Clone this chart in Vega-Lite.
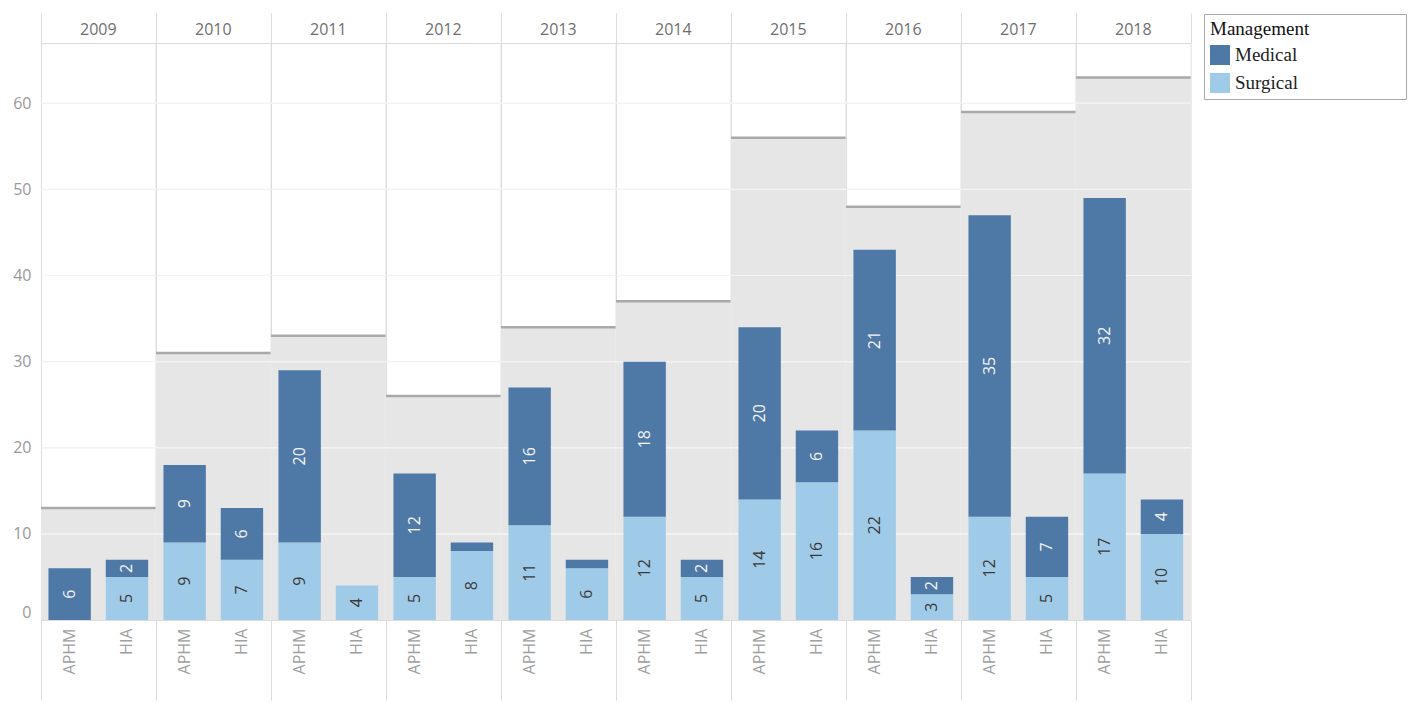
{
  "$schema": "https://vega.github.io/schema/vega-lite/v6.json",
  "padding": {"left": 12, "top": 12, "right": 5, "bottom": 0},
  "background": "white",
  "data": {"values": [
    {"year": "2009", "hospital": "APHM", "management": "Medical", "count": 6},
    {"year": "2009", "hospital": "HIA", "management": "Surgical", "count": 5},
    {"year": "2009", "hospital": "HIA", "management": "Medical", "count": 2},
    {"year": "2010", "hospital": "APHM", "management": "Surgical", "count": 9},
    {"year": "2010", "hospital": "APHM", "management": "Medical", "count": 9},
    {"year": "2010", "hospital": "HIA", "management": "Surgical", "count": 7},
    {"year": "2010", "hospital": "HIA", "management": "Medical", "count": 6},
    {"year": "2011", "hospital": "APHM", "management": "Surgical", "count": 9},
    {"year": "2011", "hospital": "APHM", "management": "Medical", "count": 20},
    {"year": "2011", "hospital": "HIA", "management": "Surgical", "count": 4},
    {"year": "2012", "hospital": "APHM", "management": "Surgical", "count": 5},
    {"year": "2012", "hospital": "APHM", "management": "Medical", "count": 12},
    {"year": "2012", "hospital": "HIA", "management": "Surgical", "count": 8},
    {"year": "2012", "hospital": "HIA", "management": "Medical", "count": 1},
    {"year": "2013", "hospital": "APHM", "management": "Surgical", "count": 11},
    {"year": "2013", "hospital": "APHM", "management": "Medical", "count": 16},
    {"year": "2013", "hospital": "HIA", "management": "Surgical", "count": 6},
    {"year": "2013", "hospital": "HIA", "management": "Medical", "count": 1},
    {"year": "2014", "hospital": "APHM", "management": "Surgical", "count": 12},
    {"year": "2014", "hospital": "APHM", "management": "Medical", "count": 18},
    {"year": "2014", "hospital": "HIA", "management": "Surgical", "count": 5},
    {"year": "2014", "hospital": "HIA", "management": "Medical", "count": 2},
    {"year": "2015", "hospital": "APHM", "management": "Surgical", "count": 14},
    {"year": "2015", "hospital": "APHM", "management": "Medical", "count": 20},
    {"year": "2015", "hospital": "HIA", "management": "Surgical", "count": 16},
    {"year": "2015", "hospital": "HIA", "management": "Medical", "count": 6},
    {"year": "2016", "hospital": "APHM", "management": "Surgical", "count": 22},
    {"year": "2016", "hospital": "APHM", "management": "Medical", "count": 21},
    {"year": "2016", "hospital": "HIA", "management": "Surgical", "count": 3},
    {"year": "2016", "hospital": "HIA", "management": "Medical", "count": 2},
    {"year": "2017", "hospital": "APHM", "management": "Surgical", "count": 12},
    {"year": "2017", "hospital": "APHM", "management": "Medical", "count": 35},
    {"year": "2017", "hospital": "HIA", "management": "Surgical", "count": 5},
    {"year": "2017", "hospital": "HIA", "management": "Medical", "count": 7},
    {"year": "2018", "hospital": "APHM", "management": "Surgical", "count": 17},
    {"year": "2018", "hospital": "APHM", "management": "Medical", "count": 32},
    {"year": "2018", "hospital": "HIA", "management": "Surgical", "count": 10},
    {"year": "2018", "hospital": "HIA", "management": "Medical", "count": 4}
  ]},
  "spacing": 0,
  "bounds": "flush",
  "facet": {"column": {"field": "year", "type": "ordinal", "title": null,
    "header": {"labelFont": "Open Sans", "labelFontSize": 16, "labelColor": "#6f6f6f", "labelPadding": -25}}},
  "spec": {
    "width": 114.6,
    "height": 577,
    "resolve": {"axis": {"x": "independent"}},
    "layer": [
      {
        "transform": [{"aggregate": [{"op": "sum", "field": "count", "as": "total"}], "groupby": ["year"]}],
        "mark": {"type": "rect", "color": "#e6e6e6"},
        "encoding": {
          "y": {"field": "total", "type": "quantitative", "title": null, "scale": {"domain": [0, 67], "nice": false}},
          "y2": {"datum": 0}
        }
      },
      {"mark": {"type": "rule", "color": "#f3f3f3", "strokeWidth": 1}, "encoding": {"y": {"datum": 10, "type": "quantitative", "title": null}}},
      {"mark": {"type": "rule", "color": "#f3f3f3", "strokeWidth": 1}, "encoding": {"y": {"datum": 20, "type": "quantitative", "title": null}}},
      {"mark": {"type": "rule", "color": "#f3f3f3", "strokeWidth": 1}, "encoding": {"y": {"datum": 30, "type": "quantitative", "title": null}}},
      {"mark": {"type": "rule", "color": "#f3f3f3", "strokeWidth": 1}, "encoding": {"y": {"datum": 40, "type": "quantitative", "title": null}}},
      {"mark": {"type": "rule", "color": "#f3f3f3", "strokeWidth": 1}, "encoding": {"y": {"datum": 50, "type": "quantitative", "title": null}}},
      {"mark": {"type": "rule", "color": "#f3f3f3", "strokeWidth": 1}, "encoding": {"y": {"datum": 60, "type": "quantitative", "title": null}}},
      {
        "transform": [{"aggregate": [{"op": "sum", "field": "count", "as": "total"}], "groupby": ["year"]}],
        "mark": {"type": "rule", "color": "#a9a9a9", "strokeWidth": 2.5},
        "encoding": {"y": {"field": "total", "type": "quantitative", "title": null}}
      },
      {
        "mark": {"type": "bar", "width": {"band": 0.74}},
        "encoding": {
          "x": {"field": "hospital", "type": "nominal", "title": null,
            "scale": {"paddingInner": 0, "paddingOuter": 0},
            "axis": {"orient": "bottom", "labelAngle": 270, "labelFont": "Open Sans", "labelFontSize": 16, "labelColor": "#a0a0a0",
              "labelPadding": -72, "labelAlign": "right", "labelBaseline": "middle",
              "domain": false, "ticks": true, "tickBand": "extent", "tickSize": 80,
              "tickColor": {"condition": {"test": "datum.value === 'APHM'", "value": "transparent"}, "value": "#dcdcdc"}}},
          "y": {"aggregate": "sum", "field": "count", "type": "quantitative", "title": null,
            "axis": {"values": [0, 10, 20, 30, 40, 50, 60], "grid": false, "domain": false, "ticks": false,
              "labelFont": "Open Sans", "labelFontSize": 16, "labelColor": "#999999", "labelPadding": 10, "labelFlush": true}},
          "color": {"field": "management", "type": "nominal",
            "scale": {"domain": ["Medical", "Surgical"], "range": ["#4e79a7", "#a0cbe8"]},
            "legend": {"title": "Management\u00a0\u00a0\u00a0\u00a0\u00a0\u00a0\u00a0\u00a0\u00a0\u00a0\u00a0\u00a0\u00a0\u00a0\u00a0\u00a0\u00a0\u00a0\u00a0\u200b",
              "orient": "none", "legendX": 1163, "legendY": -29,
              "strokeColor": "#a8a8a8", "padding": 6, "fillColor": "white",
              "titleFont": "Liberation Serif", "titleFontSize": 19, "titleFontWeight": "normal", "titleColor": "#111",
              "titlePadding": 6, "titleLimit": 400,
              "labelFont": "Liberation Serif", "labelFontSize": 19, "labelColor": "#222", "labelLimit": 400, "labelOffset": 5,
              "symbolType": "square", "symbolSize": 400, "symbolStrokeWidth": 0, "rowPadding": 8}},
          "order": {"field": "management", "sort": "descending"}
        }
      },
      {
        "transform": [{"filter": "datum.count > 1"}],
        "mark": {"type": "text", "angle": 270, "font": "Open Sans", "fontSize": 16},
        "encoding": {
          "x": {"field": "hospital", "type": "nominal", "title": null,
            "axis": {"orient": "top", "labels": false, "domain": false, "ticks": true, "tickBand": "extent", "tickSize": 30,
              "tickColor": {"condition": {"test": "datum.value === 'APHM'", "value": "transparent"}, "value": "#dcdcdc"}}},
          "y": {"aggregate": "sum", "field": "count", "type": "quantitative", "title": null, "stack": "zero", "bandPosition": 0.5},
          "detail": {"field": "management"},
          "order": {"field": "management", "sort": "descending"},
          "text": {"aggregate": "sum", "field": "count"},
          "color": {"condition": {"test": "datum.management === 'Medical'", "value": "#f4f4f4"}, "value": "#3a3a3a"}
        }
      }
    ]
  },
  "config": {
    "view": {"stroke": "#dcdcdc"},
    "axis": {"labelFont": "Open Sans"}
  }
}
